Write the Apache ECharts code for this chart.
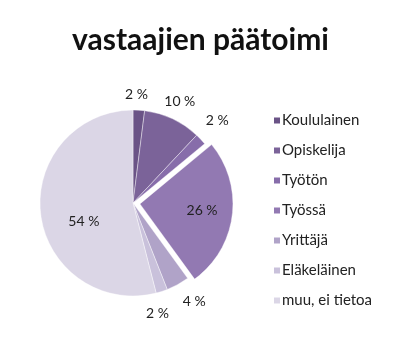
<!DOCTYPE html>
<html>
<head>
<meta charset="utf-8">
<script src="https://cdn.jsdelivr.net/npm/echarts@6/dist/echarts.min.js"></script>
<style>
  html, body { margin: 0; padding: 0; background: #fff; }
  #chart { width: 401px; height: 354px; }
</style>
</head>
<body>
<div id="chart"></div>
<script>
const categories = ['Koululainen', 'Opiskelija', 'Työtön', 'Työssä', 'Yrittäjä', 'Eläkeläinen', 'muu, ei tietoa'];
const shares = [2, 10, 2, 26, 4, 2, 54];
const colors = ['#6a5386', '#7b6399', '#876daa', '#9279b2', '#b0a3c8', '#c9c1db', '#dbd6e6'];
// nudges so the outside percent labels sit where the reference puts them
const labelNudge = [[-19, -12], [-15, -14], [-3, -16], [0, 0], [-2, 13], [-22, 18], [0, 0]];

const chart = echarts.init(document.getElementById('chart'));

const pieData = categories.map((name, i) => {
  const item = { name: name, value: shares[i], itemStyle: { color: colors[i] }, label: { offset: labelNudge[i] } };
  if (name === 'Työssä') {
    item.selected = true;
    item.label = { position: 'inside', padding: [2, 0, 0, 26] };
  }
  if (name === 'muu, ei tietoa') {
    // empty first line pushes the text a bit lower, as in the reference
    item.label = {
      position: 'inside',
      formatter: '{gap|}\n{v|{c} %}',
      rich: {
        gap: { height: 24 },
        v: { fontFamily: 'Lato', fontSize: 14, color: '#222' }
      }
    };
  }
  return item;
});

chart.setOption({
  title: {
    text: 'vastaajien päätoimi',
    left: 'center',
    top: 20,
    textStyle: { fontFamily: 'Lato', fontWeight: 'bold', fontSize: 30, color: '#111' }
  },
  legend: {
    orient: 'vertical',
    left: 267,
    top: 108,
    itemWidth: 8,
    itemHeight: 8,
    itemGap: 15,
    icon: 'rect',
    data: categories,
    textStyle: { fontFamily: 'Lato', fontSize: 15, color: '#222', padding: [0, 0, 0, -4] }
  },
  series: [{
    type: 'pie',
    center: [133, 203],
    radius: 93,
    startAngle: 90,
    selectedMode: 'multiple',
    selectedOffset: 7,
    avoidLabelOverlap: false,
    itemStyle: { borderColor: '#fff', borderWidth: 0.4 },
    label: {
      position: 'outside',
      formatter: '{c} %',
      fontFamily: 'Lato',
      fontSize: 14,
      color: '#222'
    },
    labelLine: { show: false, length: 4, length2: 0 },
    labelLayout: { hideOverlap: false },
    emphasis: { disabled: true },
    data: pieData
  }]
});
</script>
</body>
</html>
